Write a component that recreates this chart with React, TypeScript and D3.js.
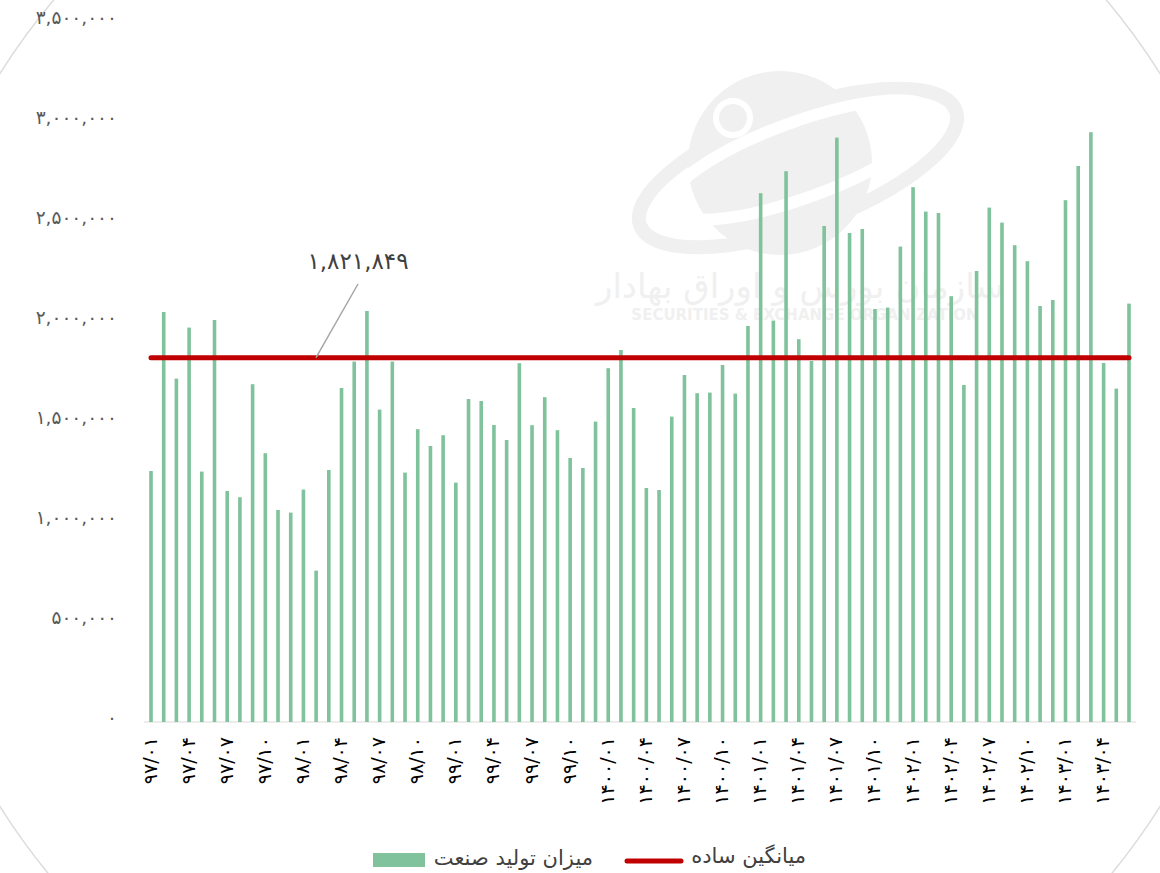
import * as d3 from "d3";

// monthly industrial production, 97/01 .. 1403/06
const months = [
  "97/01", "97/02", "97/03", "97/04", "97/05", "97/06", "97/07", "97/08", "97/09", "97/10", "97/11", "97/12",
  "98/01", "98/02", "98/03", "98/04", "98/05", "98/06", "98/07", "98/08", "98/09", "98/10", "98/11", "98/12",
  "99/01", "99/02", "99/03", "99/04", "99/05", "99/06", "99/07", "99/08", "99/09", "99/10", "99/11", "99/12",
  "1400/01", "1400/02", "1400/03", "1400/04", "1400/05", "1400/06", "1400/07", "1400/08", "1400/09", "1400/10", "1400/11", "1400/12",
  "1401/01", "1401/02", "1401/03", "1401/04", "1401/05", "1401/06", "1401/07", "1401/08", "1401/09", "1401/10", "1401/11", "1401/12",
  "1402/01", "1402/02", "1402/03", "1402/04", "1402/05", "1402/06", "1402/07", "1402/08", "1402/09", "1402/10", "1402/11", "1402/12",
  "1403/01", "1403/02", "1403/03", "1403/04", "1403/05", "1403/06",
];

const production = [
  1255000, 2050000, 1717000, 1972000, 1252000, 2010000, 1155000, 1124000, 1689000, 1344000, 1060000, 1047000,
  1162000, 757000, 1260000, 1670000, 1802000, 2055000, 1562000, 1802000, 1247000, 1464000, 1380000, 1434000,
  1197000, 1615000, 1605000, 1485000, 1410000, 1794000, 1484000, 1624000, 1459000, 1320000, 1270000, 1502000,
  1769000, 1860000, 1570000, 1170000, 1160000, 1527000, 1735000, 1644000, 1647000, 1785000, 1642000, 1980000,
  2644000, 2007000, 2754000, 1914000, 1805000, 2480000, 2922000, 2445000, 2465000, 2065000, 2072000, 2377000,
  2674000, 2552000, 2545000, 2129000, 1685000, 2255000, 2572000, 2497000, 2384000, 2304000, 2080000, 2110000,
  2609000, 2780000, 2949000, 1795000, 1667000, 2092000,
];

const average = 1821849;
const yTicks = [0, 500000, 1000000, 1500000, 2000000, 2500000, 3000000, 3500000];

const seriesLabel = "میزان تولید صنعت";
const avgLabel = "میانگین ساده";

const FONT = "'DejaVu Sans', sans-serif";
const GREEN = "#7fc29b";
const RED = "#c00000";
const WM = "#f0f0f0";

const faDigits = "۰۱۲۳۴۵۶۷۸۹";
const toFa = (s: string) => s.replace(/[0-9]/g, (d) => faDigits[+d]);
const fmt = d3.format(",");

export default function App() {
  const width = 1160;
  const height = 873;

  const x = d3.scalePoint<string>().domain(months).range([151, 1129]);
  const y = d3.scaleLinear().domain([0, 3500000]).range([722, 22]);
  const barW = 3.6;

  const yAvg = y(average);
  const x0 = x(months[0])!;
  const x1 = x(months[months.length - 1])!;

  return (
    <div style={{ position: "absolute", left: 0, top: 0 }}>
      <svg width={width} height={height} style={{ display: "block", background: "#fff" }}>
        {/* faint watermark logo */}
        <g>
          <circle cx={580} cy={440} r={686} fill="none" stroke="#dcdcdc" strokeWidth={1.5} />
          <ellipse cx={798} cy={168} rx={168} ry={58} transform="rotate(-20 798 168)" fill="none" stroke={WM} strokeWidth={14} />
          <circle cx={780} cy={163} r={92} fill={WM} />
          <ellipse cx={800} cy={160} rx={140} ry={38} transform="rotate(-20 800 160)" fill="none" stroke="#fff" strokeWidth={12} />
          <circle cx={733} cy={118} r={17} fill="none" stroke="#fff" strokeWidth={6} />
          <text x={800} y={298} textAnchor="middle" fontFamily={FONT} fontSize={34} fill={WM}>
            سازمان بورس و اوراق بهادار
          </text>
          <text x={805} y={320} textAnchor="middle" fontFamily={FONT} fontSize={15} fontWeight="bold" fill={WM}>
            SECURITIES &amp; EXCHANGE ORGANIZATION
          </text>
        </g>

        {/* y axis labels */}
        {yTicks.map((t) => (
          <text
            key={t}
            x={117}
            y={y(t) - 3}
            textAnchor="end"
            dominantBaseline="middle"
            fontFamily={FONT}
            fontSize={18.5}
            fill="#595959"
          >
            {toFa(fmt(t))}
          </text>
        ))}

        {/* baseline */}
        <line x1={144} x2={1136} y1={y(0)} y2={y(0)} stroke="#d9d9d9" strokeWidth={1} />

        {/* bars */}
        {production.map((v, i) => (
          <rect
            key={months[i]}
            x={x(months[i])! - barW / 2}
            y={y(v)}
            width={barW}
            height={y(0) - y(v)}
            fill={GREEN}
          />
        ))}

        {/* average line */}
        <line x1={x0} x2={x1} y1={yAvg} y2={yAvg} stroke={RED} strokeWidth={5} strokeLinecap="round" />

        {/* callout */}
        <line x1={358} y1={284} x2={316} y2={yAvg} stroke="#a6a6a6" strokeWidth={1.5} />
        <text
          x={358}
          y={262}
          textAnchor="middle"
          dominantBaseline="middle"
          fontFamily={FONT}
          fontSize={23}
          fill="#404040"
        >
          {toFa(fmt(average))}
        </text>

        {/* x axis labels, every 3rd month */}
        {months.map((m, i) =>
          i % 3 === 0 ? (
            <text
              key={m}
              transform={`translate(${x(m)},737) rotate(-90)`}
              textAnchor="end"
              dominantBaseline="middle"
              fontFamily={FONT}
              fontSize={19}
              letterSpacing={2.5}
              fill="#000"
            >
              {toFa(m)}
            </text>
          ) : null,
        )}

        {/* legend */}
        <rect x={373} y={853} width={52} height={14} fill={GREEN} />
        <text x={593} y={859} textAnchor="end" dominantBaseline="middle" fontFamily={FONT} fontSize={21} fill="#404040">
          {seriesLabel}
        </text>
        <line x1={627} x2={681} y1={861} y2={861} stroke={RED} strokeWidth={5} strokeLinecap="round" />
        <text x={806} y={857} textAnchor="end" dominantBaseline="middle" fontFamily={FONT} fontSize={21} fill="#404040">
          {avgLabel}
        </text>
      </svg>
    </div>
  );
}
